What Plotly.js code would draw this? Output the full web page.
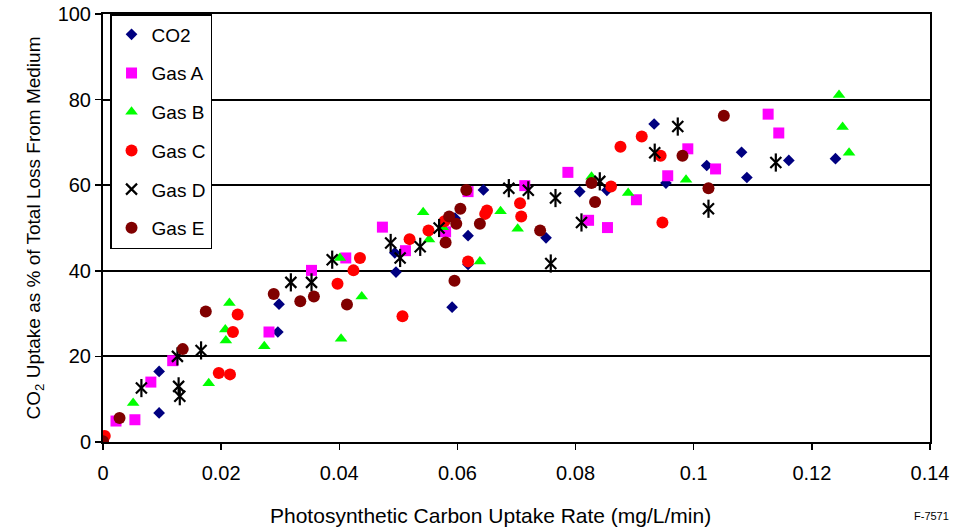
<!DOCTYPE html>
<html>
<head>
<meta charset="utf-8">
<script src="https://cdn.plot.ly/plotly-3.0.1.min.js"></script>
<style>html,body{margin:0;padding:0;background:#fff}#chart{width:954px;height:531px}</style>
</head>
<body>
<div id="chart"></div>
<script>
// ---- data ----
const seriesNames = ["CO2", "Gas A", "Gas B", "Gas C", "Gas D", "Gas E"];

const co2X = [0, 0.0095, 0.0095, 0.0296, 0.0298, 0.0494, 0.0496, 0.0591, 0.0596, 0.0618, 0.0618, 0.0644, 0.075, 0.0807, 0.0853, 0.0933, 0.0953, 0.1022, 0.1081, 0.109, 0.1161, 0.124];
const co2Y = [0, 16.5, 6.8, 25.7, 32.2, 44.2, 39.7, 31.5, 52.3, 48.2, 41.5, 58.9, 47.7, 58.5, 58.8, 74.3, 60.5, 64.6, 67.7, 61.8, 65.8, 66.2];

const gasAX = [0.0022, 0.0054, 0.0081, 0.0118, 0.0281, 0.0353, 0.0411, 0.0473, 0.0512, 0.058, 0.0618, 0.0714, 0.0787, 0.0822, 0.0854, 0.0903, 0.0956, 0.099, 0.1037, 0.1126, 0.1144];
const gasAY = [4.9, 5.2, 14.0, 19.0, 25.7, 40.1, 43.0, 50.2, 44.7, 49.1, 58.5, 59.9, 63.0, 51.8, 50.1, 56.6, 62.2, 68.5, 63.8, 76.6, 72.2];

const gasBX = [0.0051, 0.0179, 0.0207, 0.0208, 0.0214, 0.0273, 0.0401, 0.0403, 0.0438, 0.0542, 0.0552, 0.0575, 0.0638, 0.0673, 0.0702, 0.0827, 0.0889, 0.0987, 0.1246, 0.1252, 0.1263];
const gasBY = [9.1, 13.7, 26.3, 23.7, 32.5, 22.4, 43.0, 24.1, 34.0, 53.7, 47.3, 50.2, 42.2, 53.9, 49.8, 62.0, 58.2, 61.3, 81.1, 73.6, 67.6];

const gasCX = [0.0003, 0.0196, 0.0215, 0.022, 0.0228, 0.0397, 0.0424, 0.0435, 0.0507, 0.0519, 0.0551, 0.0578, 0.0618, 0.0647, 0.065, 0.0706, 0.0708, 0.086, 0.0876, 0.0912, 0.0944, 0.0947];
const gasCY = [1.4, 16.1, 15.8, 25.7, 29.8, 37.0, 40.1, 43.0, 29.4, 47.4, 49.4, 51.6, 42.2, 53.3, 54.1, 55.8, 52.7, 59.7, 69.0, 71.4, 66.9, 51.3];

const gasDX = [0.0065, 0.0126, 0.0128, 0.013, 0.0166, 0.0318, 0.0353, 0.0388, 0.0487, 0.0503, 0.0537, 0.0569, 0.0687, 0.072, 0.0758, 0.0766, 0.081, 0.0841, 0.0934, 0.0973, 0.1025, 0.1139];
const gasDY = [12.6, 20.0, 13.0, 10.7, 21.4, 37.3, 37.3, 42.6, 46.5, 43.0, 45.6, 50.0, 59.3, 58.8, 41.7, 57.0, 51.3, 60.9, 67.6, 73.7, 54.5, 65.3];

const gasEX = [0, 0.0028, 0.0135, 0.0174, 0.0289, 0.0334, 0.0357, 0.0413, 0.058, 0.0586, 0.0595, 0.0598, 0.0605, 0.0615, 0.0638, 0.074, 0.0827, 0.0833, 0.0981, 0.1025, 0.1051];
const gasEY = [0.2, 5.6, 21.7, 30.5, 34.6, 32.9, 34.0, 32.1, 46.6, 52.7, 37.7, 51.0, 54.5, 58.9, 51.0, 49.4, 60.5, 56.1, 66.9, 59.3, 76.2];

const xTickVals = [0, 0.02, 0.04, 0.06, 0.08, 0.1, 0.12, 0.14];
const xTickText = ["0", "0.02", "0.04", "0.06", "0.08", "0.1", "0.12", "0.14"];
const yTickVals = [0, 20, 40, 60, 80, 100];
const yTickText = ["0", "20", "40", "60", "80", "100"];

// ---- traces ----
const FONT = "Arial, 'Liberation Sans', sans-serif";
function pts(name, x, y, marker, extra) {
  return Object.assign({type: "scatter", mode: "markers", name: name, x: x, y: y,
    marker: marker, legendgroup: name, hoverinfo: "x+y+name"}, extra || {});
}
const traces = [
  pts(seriesNames[0], co2X, co2Y, {symbol: "diamond", size: 9, color: "#000080"}),
  pts(seriesNames[1], gasAX, gasAY, {symbol: "square", size: 11, color: "#FF00FF"}),
  pts(seriesNames[2], gasBX, gasBY, {symbol: "triangle-up", size: 11, color: "#00FF00"}),
  pts(seriesNames[3], gasCX, gasCY, {symbol: "circle", size: 12, color: "#FF0000"}),
  pts(seriesNames[4], gasDX, gasDY, {symbol: "x-thin-open", size: 11, color: "#000000", line: {width: 2.2, color: "#000000"}}),
  pts(seriesNames[4], gasDX, gasDY, {symbol: "line-ns-open", size: 13, color: "#000000", line: {width: 2.2, color: "#000000"}}, {showlegend: false}),
  pts(seriesNames[5], gasEX, gasEY, {symbol: "circle", size: 12, color: "#800000"})
];

const layout = {
  width: 954, height: 531,
  margin: {l: 103, r: 24, t: 14, b: 89},
  paper_bgcolor: "#ffffff", plot_bgcolor: "#ffffff",
  font: {family: FONT, size: 20, color: "#000000"},
  showlegend: true,
  legend: {
    x: 0.0085, y: 1, xanchor: "left", yanchor: "top",
    bgcolor: "#ffffff", bordercolor: "#000000", borderwidth: 1.5,
    font: {family: FONT, size: 19, color: "#000000"},
    tracegroupgap: 11, itemwidth: 30
  },
  xaxis: {
    range: [0, 0.14], tickmode: "array", tickvals: xTickVals, ticktext: xTickText,
    ticks: "outside", ticklen: 6, tickwidth: 1.5, tickcolor: "#000000",
    ticklabelstandoff: 6,
    showline: true, linecolor: "#000000", linewidth: 2, mirror: true,
    showgrid: false, zeroline: false,
    tickfont: {family: FONT, size: 20}
  },
  yaxis: {
    range: [0, 100], tickmode: "array", tickvals: yTickVals, ticktext: yTickText,
    ticks: "outside", ticklen: 6, tickwidth: 1.5, tickcolor: "#000000",
    showline: true, linecolor: "#000000", linewidth: 2, mirror: true,
    showgrid: true, gridcolor: "#000000", gridwidth: 2, zeroline: false,
    tickfont: {family: FONT, size: 20},
    title: {text: "CO<sub>2</sub> Uptake as % of Total Loss From Medium", font: {family: FONT, size: 19}, standoff: 12}
  },
  annotations: [
    {
      text: "Photosynthetic Carbon Uptake Rate (mg/L/min)", xref: "paper", yref: "paper",
      x: 0.468, y: -0.172, xanchor: "center", yanchor: "middle",
      showarrow: false, font: {family: FONT, size: 21, color: "#000000"}
    },
    {
      text: "F-7571", xref: "paper", yref: "paper", x: 1.025, y: -0.174, xanchor: "right", yanchor: "middle",
      showarrow: false, font: {family: FONT, size: 11, color: "#000000"}
    }
  ]
};

Plotly.newPlot("chart", traces, layout, {displayModeBar: false, staticPlot: true});
</script>
</body>
</html>
